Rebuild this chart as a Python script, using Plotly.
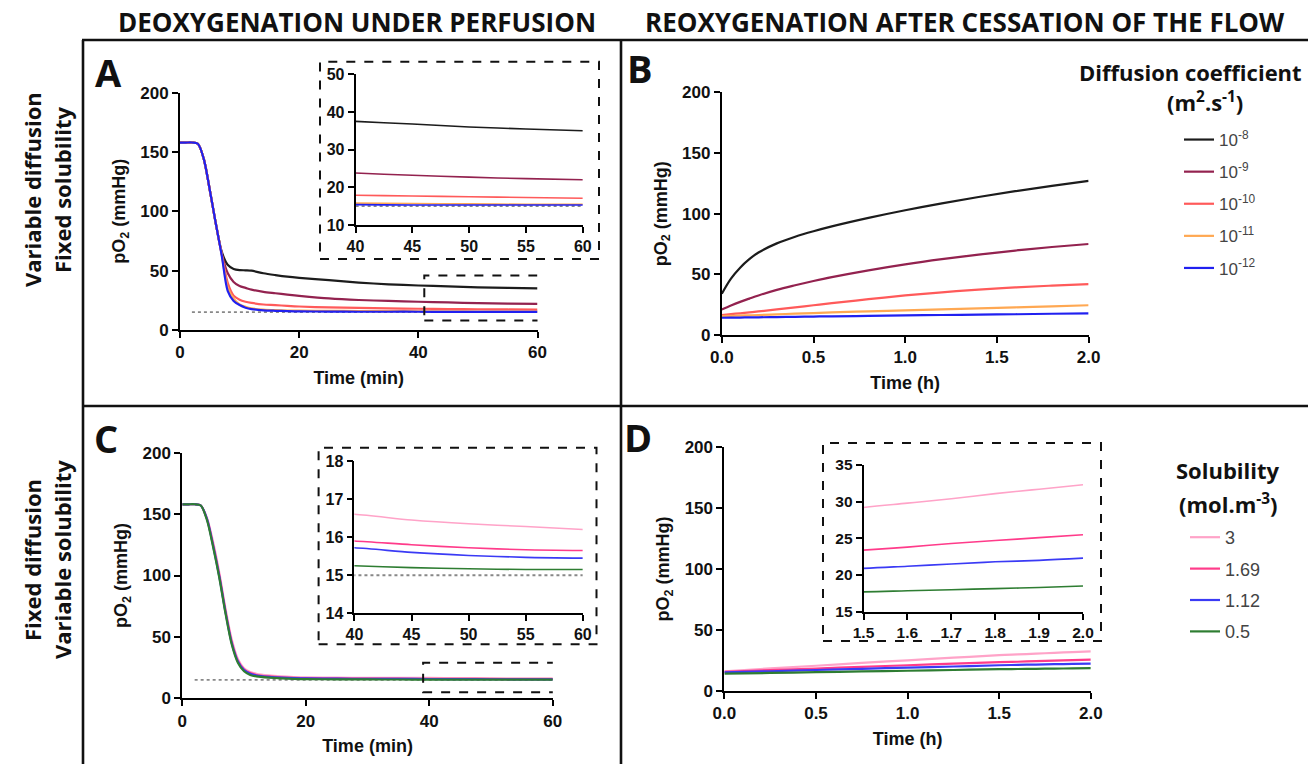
import plotly.graph_objects as go

W, H = 1308, 764

# ---------------- data ----------------
# Deoxygenation under perfusion (min)
t_min = [0, 1, 2, 3, 4, 5, 6, 7, 8, 9, 10, 11, 12, 14, 16, 18, 20, 25, 30, 35, 40, 45, 50, 55, 60]

A_d8 = [158, 158, 158, 157, 144, 118, 90, 66, 55, 51.5, 50.5, 50.3, 50, 47.8, 46.3, 45, 44, 42, 40, 38.5, 37.5, 36.8, 36, 35.5, 35]
A_d9 = [158, 158, 158, 157, 144, 118, 90, 64.5, 48, 40.5, 37, 35.5, 34, 32.2, 31, 29.8, 28.8, 26.6, 25.3, 24.5, 23.8, 23.2, 22.7, 22.3, 22]
A_d10 = [158, 158, 158, 157, 144, 118, 90, 64, 40, 29, 25.5, 23.8, 22.8, 21.5, 21, 20.3, 19.8, 19, 18.6, 18.2, 17.9, 17.7, 17.5, 17.3, 17.1]
A_d11 = [158, 158, 158, 157, 144, 118, 90, 63.5, 36, 26.5, 21.5, 19.5, 18.2, 17.2, 16.7, 16.4, 16.3, 16.1, 16, 15.9, 15.8, 15.7, 15.6, 15.5, 15.5]
A_d12 = [158, 158, 158, 157, 144, 118, 90, 63, 33, 24.5, 21, 18.8, 17.6, 16.6, 16.2, 15.9, 15.7, 15.5, 15.4, 15.4, 15.4, 15.3, 15.3, 15.3, 15.3]

C_s3 = [158, 158, 158, 157, 147, 127, 102, 73, 48, 32, 24.5, 21.5, 20, 18.6, 17.8, 17.3, 17.0, 16.8, 16.7, 16.65, 16.6, 16.45, 16.35, 16.28, 16.2]
C_s169 = [158, 158, 158, 157, 146, 125, 100, 71, 46, 30.5, 23.5, 20.5, 19, 17.8, 17.0, 16.6, 16.4, 16.2, 16.05, 15.95, 15.9, 15.8, 15.72, 15.67, 15.65]
C_s112 = [158, 158, 158, 157, 146, 124, 99, 70, 45, 30, 23, 20, 18.6, 17.5, 16.8, 16.4, 16.2, 16.0, 15.85, 15.76, 15.72, 15.6, 15.52, 15.47, 15.45]
C_s05 = [158, 158, 158, 157, 145, 123, 98, 69, 44, 29, 22, 19, 17.8, 16.8, 16.2, 15.8, 15.6, 15.45, 15.35, 15.3, 15.25, 15.2, 15.17, 15.15, 15.15]

# Reoxygenation after cessation of the flow (h)
t_h_B = [0, 0.05, 0.1, 0.15, 0.2, 0.3, 0.4, 0.5, 0.6, 0.8, 1.0, 1.2, 1.4, 1.6, 1.8, 2.0]
B_d8 = [34, 46.5, 55.5, 62.5, 68, 75.5, 81, 85.5, 89.5, 96.5, 102.8, 108.5, 113.7, 118.5, 122.9, 127]
B_d9 = [21, 24.3, 27.3, 30, 32.6, 37.2, 41, 44.5, 47.7, 53.3, 58.2, 62.5, 66.3, 69.6, 72.5, 75]
B_d10 = [16.5, 17.2, 17.9, 18.6, 19.4, 21.1, 22.8, 24.5, 26.2, 29.5, 32.6, 35.2, 37.4, 39.2, 40.7, 42]
B_d11 = [15.5, 15.7, 16, 16.2, 16.4, 17, 17.6, 18.1, 18.6, 19.5, 20.3, 21.1, 22, 22.8, 23.6, 24.5]
B_d12 = [14.2, 14.3, 14.4, 14.5, 14.6, 14.8, 15, 15.2, 15.4, 15.7, 16.1, 16.5, 16.8, 17.1, 17.5, 17.8]

t_h_D = [0, 0.25, 0.5, 0.75, 1.0, 1.25, 1.5, 1.6, 1.7, 1.8, 1.9, 2.0]
D_s3 = [16, 18.3, 20.5, 22.8, 25, 27.1, 29.2, 29.8, 30.4, 31.1, 31.7, 32.3]
D_s169 = [15.5, 16.9, 18.2, 19.6, 20.9, 22.2, 23.4, 23.8, 24.3, 24.7, 25.1, 25.5]
D_s112 = [15, 16, 17, 18, 19, 19.9, 20.9, 21.2, 21.5, 21.8, 22.0, 22.3]
D_s05 = [14, 14.6, 15.2, 15.8, 16.4, 17.0, 17.7, 17.85, 18.0, 18.15, 18.3, 18.5]

thr_t = [2, 60]
thr_v = [15, 15]

diff_labels = ["10<sup>-8</sup>", "10<sup>-9</sup>", "10<sup>-10</sup>", "10<sup>-11</sup>", "10<sup>-12</sup>"]
sol_labels = ["3", "1.69", "1.12", "0.5"]

diff_colors = ["#1c1c1c", "#93224f", "#ff5a5a", "#ffa852", "#2020f0"]
sol_colors = ["#ffa3c8", "#ff3b8a", "#3a3af5", "#2e7d32"]

A_series = [A_d8, A_d9, A_d10, A_d11, A_d12]
B_series = [B_d8, B_d9, B_d10, B_d11, B_d12]
C_series = [C_s3, C_s169, C_s112, C_s05]
D_series = [D_s3, D_s169, D_s112, D_s05]

# ---------------- helpers ----------------
def px(p):
    return p / W


def py(p):
    return 1 - p / H


TICKFONT = "Liberation Sans, Arial"
TITLEFONT = "Open Sans, Noto Sans"


def axis(dom, rng, dtick, anchor, size=17, lw=2, fmt=None, title=None, standoff=None):
    d = dict(
        domain=dom, range=rng, dtick=dtick, tick0=rng[0], anchor=anchor,
        showline=True, linecolor="black", linewidth=lw, mirror=False,
        ticks="outside", ticklen=6, tickwidth=lw, tickcolor="black",
        showgrid=False, zeroline=False, fixedrange=True, automargin=False,
        tickfont=dict(family=TICKFONT, size=size, color="#111", weight="bold"),
    )
    if fmt:
        d["tickformat"] = fmt
    if title:
        d["title"] = dict(text=title, standoff=standoff,
                          font=dict(family=TICKFONT, size=18, color="#111", weight="bold"))
    return d


fig = go.Figure()

# Panel A main + inset
for xa, ya, lw in (("x", "y", 2.2), ("x2", "y2", 1.6)):
    fig.add_trace(go.Scatter(x=thr_t, y=thr_v, mode="lines", xaxis=xa, yaxis=ya,
                             line=dict(color="#888", width=1.8, dash="dot"), showlegend=False))
    for s, c in zip(A_series, diff_colors):
        fig.add_trace(go.Scatter(x=t_min, y=s, mode="lines", xaxis=xa, yaxis=ya,
                                 line=dict(color=c, width=lw, shape="spline", smoothing=0.8),
                                 showlegend=False))

# Panel B
for i, (s, c, lab) in enumerate(zip(B_series, diff_colors, diff_labels)):
    fig.add_trace(go.Scatter(x=t_h_B, y=s, mode="lines", xaxis="x3", yaxis="y3",
                             line=dict(color=c, width=2.2, shape="spline"), name=lab,
                             legend="legend", legendgroup=f"b{i}"))

# Panel C main + inset
for xa, ya, lw in (("x4", "y4", 2.2), ("x5", "y5", 1.6)):
    fig.add_trace(go.Scatter(x=thr_t, y=thr_v, mode="lines", xaxis=xa, yaxis=ya,
                             line=dict(color="#888", width=1.8, dash="dot"), showlegend=False))
    for s, c in zip(C_series, sol_colors):
        fig.add_trace(go.Scatter(x=t_min, y=s, mode="lines", xaxis=xa, yaxis=ya,
                                 line=dict(color=c, width=lw, shape="spline", smoothing=0.8),
                                 showlegend=False))

# Panel D main + inset
for i, (s, c, lab) in enumerate(zip(D_series, sol_colors, sol_labels)):
    fig.add_trace(go.Scatter(x=t_h_D, y=s, mode="lines", xaxis="x6", yaxis="y6",
                             line=dict(color=c, width=2.2, shape="spline"), name=lab,
                             legend="legend2", legendgroup=f"d{i}"))
for s, c in zip(D_series, sol_colors):
    fig.add_trace(go.Scatter(x=t_h_D, y=s, mode="lines", xaxis="x7", yaxis="y7",
                             line=dict(color=c, width=1.6, shape="spline"), showlegend=False))

ytitle = "pO<sub>2</sub> (mmHg)"
layout = dict(
    width=W, height=H, margin=dict(l=0, r=0, t=0, b=0),
    paper_bgcolor="white", plot_bgcolor="white",
    # A
    xaxis=axis([px(180), px(537.5)], [0, 60], 20, "y", title="Time (min)", standoff=10),
    yaxis=axis([py(330), py(92.7)], [0, 200], 50, "x", title=ytitle, standoff=10),
    xaxis2=axis([px(355.5), px(582.8)], [40, 60], 5, "y2", size=16, lw=1.6),
    yaxis2=axis([py(225), py(74.3)], [10, 50], 10, "x2", size=16, lw=1.6),
    # B
    xaxis3=axis([px(721.8), px(1088.6)], [0, 2], 0.5, "y3", fmt=".1f", title="Time (h)", standoff=10),
    yaxis3=axis([py(335), py(92.3)], [0, 200], 50, "x3", title=ytitle, standoff=10),
    # C
    xaxis4=axis([px(182.3), px(552.8)], [0, 60], 20, "y4", title="Time (min)", standoff=10),
    yaxis4=axis([py(698.3), py(452.7)], [0, 200], 50, "x4", title=ytitle, standoff=10),
    xaxis5=axis([px(354.4), px(582.8)], [40, 60], 5, "y5", size=16, lw=1.6),
    yaxis5=axis([py(613.3), py(461)], [14, 18], 1, "x5", size=16, lw=1.6),
    # D
    xaxis6=axis([px(724.4), px(1090.8)], [0, 2], 0.5, "y6", fmt=".1f", title="Time (h)", standoff=10),
    yaxis6=axis([py(690.7), py(447.3)], [0, 200], 50, "x6", title=ytitle, standoff=10),
    xaxis7=axis([px(863.5), px(1083)], [1.5, 2.0], 0.1, "y7", fmt=".1f", size=15.5, lw=1.6),
    yaxis7=axis([py(611.7), py(465)], [15, 35], 5, "x7", size=15.5, lw=1.6),
    legend=dict(x=px(1179), y=py(122), xanchor="left", yanchor="top",
                traceorder="grouped", tracegroupgap=7, itemwidth=30,
                bgcolor="rgba(0,0,0,0)",
                font=dict(family=TICKFONT, size=17, color="#444")),
    legend2=dict(x=px(1185), y=py(519), xanchor="left", yanchor="top",
                 traceorder="grouped", tracegroupgap=5, itemwidth=30,
                 bgcolor="rgba(0,0,0,0)",
                 font=dict(family=TICKFONT, size=18, color="#444")),
)
fig.update_layout(**layout)

# ---------------- frame & boxes ----------------
shapes = []
frame = dict(type="line", xref="paper", yref="paper", line=dict(color="#111", width=2.6))
shapes.append({**frame, "x0": px(82), "x1": 1, "y0": py(40), "y1": py(40)})
shapes.append({**frame, "x0": px(82), "x1": 1, "y0": py(406), "y1": py(406)})
shapes.append({**frame, "x0": px(83), "x1": px(83), "y0": py(40), "y1": 0})
shapes.append({**frame, "x0": px(621), "x1": px(621), "y0": py(40), "y1": 0})

dbox = dict(type="rect", xref="paper", yref="paper", line=dict(color="#111", width=2, dash="dash"))
shapes.append({**dbox, "x0": px(320), "x1": px(599), "y0": py(259), "y1": py(61.7)})
shapes.append({**dbox, "x0": px(318.6), "x1": px(596.5), "y0": py(644.3), "y1": py(447.7)})
shapes.append({**dbox, "x0": px(823), "x1": px(1101), "y0": py(641), "y1": py(443)})

# zoom windows in data units
shapes.append(dict(type="rect", xref="x", yref="y", x0=41, x1=60.3, y0=8, y1=46,
                   line=dict(color="#111", width=2, dash="dash")))
shapes.append(dict(type="rect", xref="x4", yref="y4", x0=39, x1=60.5, y0=5, y1=29,
                   line=dict(color="#111", width=2, dash="dash")))
fig.update_layout(shapes=shapes)

# ---------------- text ----------------
ann = []


def text(x, y, s, size, angle=0, family=TITLEFONT, color="#111", weight="bold", xanchor="center"):
    ann.append(dict(x=px(x), y=py(y), xref="paper", yref="paper", text=s, showarrow=False,
                    textangle=angle, xanchor=xanchor, yanchor="middle",
                    font=dict(family=family, size=size, color=color, weight=weight)))


text(357, 22, "DEOXYGENATION UNDER PERFUSION", 26)
text(965, 22, "REOXYGENATION AFTER CESSATION OF THE FLOW", 26)
text(32, 190, "Variable diffusion", 22, angle=-90)
text(62, 190, "Fixed solubility", 22, angle=-90)
text(32, 560, "Fixed diffusion", 22, angle=-90)
text(62, 560, "Variable solubility", 22, angle=-90)
text(108, 72, "A", 38)
text(640, 68, "B", 38)
text(106, 438, "C", 38)
text(638, 437, "D", 38)
text(1190, 72, "Diffusion coefficient", 22)
text(1205, 101, "(m<sup>2</sup>.s<sup>-1</sup>)", 22)
text(1228, 470, "Solubility", 22)
text(1228, 503, "(mol.m<sup>-3</sup>)", 22)

fig.update_layout(annotations=ann)

fig.write_html("out.html", config={"displayModeBar": False},
               post_script="document.body.style.margin='0';")
